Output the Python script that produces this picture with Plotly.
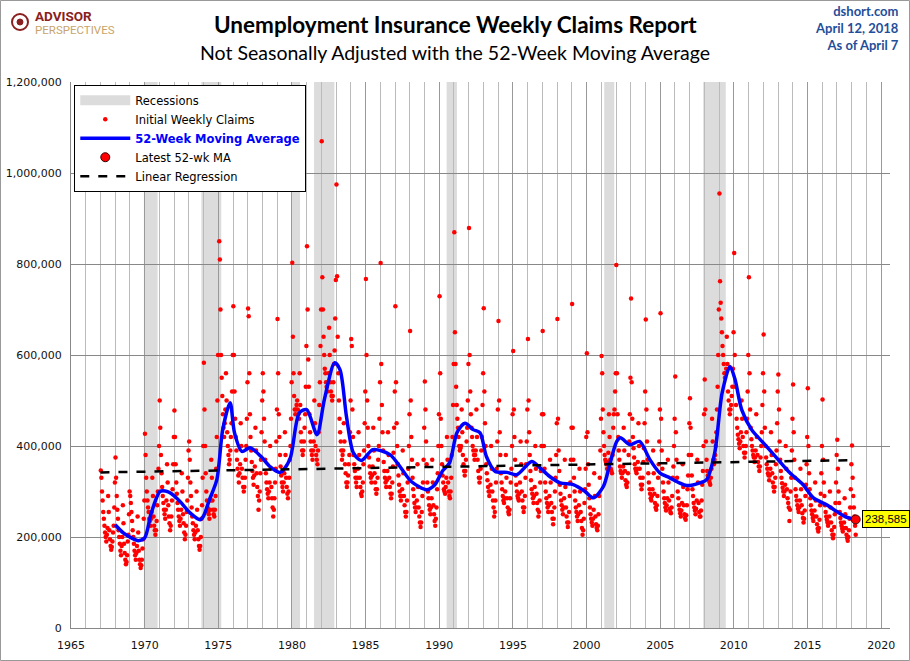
import plotly.graph_objects as go

# weekly claims, in thousands, two readings per month (Jan..Dec), from Jan 1967
claims_k = [
    346, 330, 300, 280, 255, 240, 225, 210, 200, 190, 205, 220, 290, 255, 215, 195, 180, 172, 178, 190, 210, 225, 265, 320,  # 1967
    375, 330, 290, 260, 240, 215, 200, 185, 170, 160, 180, 200, 270, 230, 185, 165, 150, 140, 145, 160, 190, 205, 250, 300,  # 1968
    290, 275, 255, 235, 215, 200, 185, 170, 160, 150, 165, 180, 245, 210, 170, 150, 140, 132, 138, 150, 175, 195, 240, 280,  # 1969
    427, 380, 330, 300, 280, 265, 255, 240, 235, 225, 240, 255, 330, 290, 245, 225, 215, 205, 215, 235, 270, 300, 350, 400,  # 1970
    500, 440, 380, 340, 310, 290, 275, 260, 250, 240, 260, 280, 360, 320, 270, 245, 230, 215, 225, 245, 280, 305, 360, 420,  # 1971
    478, 420, 360, 320, 295, 275, 260, 245, 235, 225, 240, 260, 340, 300, 250, 230, 210, 195, 205, 225, 255, 280, 330, 390,  # 1972
    410, 370, 320, 290, 265, 245, 230, 215, 205, 195, 210, 225, 300, 260, 215, 195, 180, 172, 180, 200, 240, 270, 330, 400,  # 1973
    583, 480, 400, 340, 300, 280, 265, 255, 250, 240, 260, 280, 370, 330, 280, 260, 250, 245, 260, 290, 350, 420, 500, 600,  # 1974
    967, 850, 810, 700, 600, 550, 510, 470, 440, 420, 450, 480, 560, 500, 430, 400, 380, 360, 370, 390, 420, 450, 520, 600,  # 1975
    707, 600, 520, 460, 420, 390, 370, 350, 335, 320, 340, 360, 450, 400, 350, 330, 310, 300, 310, 330, 370, 400, 460, 540,  # 1976
    702, 685, 560, 470, 420, 390, 365, 345, 330, 315, 335, 355, 440, 390, 340, 310, 290, 260, 280, 300, 340, 370, 430, 500,  # 1977
    560, 520, 460, 410, 370, 340, 320, 305, 295, 285, 300, 320, 400, 350, 310, 285, 265, 245, 260, 285, 320, 350, 410, 480,  # 1978
    679, 560, 470, 420, 380, 355, 335, 320, 310, 300, 320, 340, 430, 380, 330, 310, 295, 285, 300, 330, 370, 400, 460, 540,  # 1979
    803, 640, 560, 510, 480, 470, 480, 490, 500, 480, 470, 460, 560, 490, 430, 410, 390, 380, 390, 410, 440, 470, 530, 620,  # 1980
    839, 700, 590, 530, 470, 430, 410, 390, 380, 370, 390, 410, 500, 450, 400, 380, 370, 360, 390, 430, 490, 540, 620, 700,  # 1981
    1070, 771, 700, 640, 600, 570, 560, 540, 530, 520, 540, 560, 660, 600, 540, 520, 510, 500, 510, 540, 580, 610, 680, 765,  # 1982
    975, 773, 640, 560, 500, 460, 430, 410, 390, 370, 380, 390, 450, 410, 360, 340, 320, 310, 320, 335, 360, 380, 430, 500,  # 1983
    635, 620, 480, 420, 380, 360, 345, 330, 320, 310, 330, 350, 430, 380, 330, 310, 295, 290, 300, 320, 360, 390, 450, 520,  # 1984
    767, 600, 500, 440, 400, 375, 355, 340, 330, 320, 335, 355, 440, 390, 340, 320, 305, 295, 305, 330, 370, 400, 460, 540,  # 1985
    802, 580, 490, 430, 390, 365, 345, 330, 320, 310, 325, 345, 430, 380, 330, 310, 295, 285, 295, 320, 355, 385, 440, 520,  # 1986
    707, 540, 450, 400, 360, 335, 315, 300, 290, 280, 290, 305, 390, 340, 290, 270, 255, 245, 255, 280, 320, 350, 400, 470,  # 1987
    653, 500, 420, 370, 330, 305, 290, 275, 265, 255, 265, 280, 360, 310, 265, 245, 232, 222, 232, 255, 290, 320, 370, 440,  # 1988
    542, 480, 410, 360, 320, 300, 285, 270, 260, 250, 265, 285, 370, 320, 270, 250, 235, 225, 240, 265, 305, 340, 400, 470,  # 1989
    729, 560, 460, 400, 360, 335, 320, 305, 300, 295, 310, 330, 420, 370, 320, 300, 290, 285, 300, 330, 380, 420, 490, 580,  # 1990
    870, 650, 580, 530, 490, 460, 440, 420, 400, 390, 395, 400, 480, 430, 380, 360, 345, 335, 345, 370, 410, 440, 500, 580,  # 1991
    879, 600, 520, 470, 440, 420, 400, 390, 380, 370, 380, 390, 480, 420, 370, 345, 330, 320, 330, 350, 390, 420, 490, 560,  # 1992
    703, 520, 450, 400, 360, 340, 325, 310, 300, 290, 300, 315, 400, 350, 300, 280, 265, 245, 255, 280, 320, 350, 410, 480,  # 1993
    675, 500, 430, 380, 340, 320, 305, 290, 280, 275, 285, 300, 380, 330, 285, 265, 255, 250, 260, 285, 320, 350, 400, 470,  # 1994
    609, 480, 420, 370, 335, 315, 300, 290, 285, 280, 295, 320, 410, 360, 300, 280, 265, 255, 265, 290, 330, 360, 410, 480,  # 1995
    635, 500, 430, 380, 345, 325, 305, 295, 285, 275, 290, 310, 400, 350, 295, 275, 260, 245, 255, 280, 320, 345, 400, 470,  # 1996
    653, 470, 400, 350, 320, 300, 285, 275, 265, 255, 270, 290, 370, 320, 275, 255, 240, 228, 240, 265, 300, 330, 380, 450,  # 1997
    679, 460, 390, 345, 315, 295, 280, 270, 260, 250, 265, 285, 370, 310, 265, 245, 232, 222, 232, 255, 290, 320, 370, 440,  # 1998
    712, 440, 370, 330, 300, 280, 265, 255, 245, 235, 250, 270, 350, 300, 255, 235, 220, 205, 215, 240, 275, 305, 350, 420,  # 1999
    604, 430, 360, 315, 285, 265, 250, 240, 232, 225, 240, 260, 340, 290, 245, 228, 220, 215, 225, 250, 290, 330, 390, 460,  # 2000
    598, 560, 480, 430, 400, 380, 370, 365, 360, 350, 365, 385, 470, 420, 370, 350, 345, 340, 380, 440, 470, 480, 520, 560,  # 2001
    798, 560, 470, 420, 390, 370, 355, 345, 340, 330, 340, 355, 440, 390, 345, 325, 315, 310, 320, 340, 380, 410, 470, 550,  # 2002
    724, 540, 460, 420, 395, 375, 360, 350, 345, 340, 350, 365, 450, 400, 350, 330, 315, 305, 315, 330, 365, 395, 450, 520,  # 2003
    678, 480, 410, 370, 340, 320, 305, 295, 285, 280, 290, 305, 390, 340, 295, 275, 265, 260, 270, 290, 330, 360, 410, 480,  # 2004
    692, 460, 390, 350, 320, 300, 285, 275, 265, 258, 270, 285, 370, 320, 280, 262, 255, 252, 265, 290, 330, 355, 400, 460,  # 2005
    553, 430, 370, 330, 300, 285, 270, 260, 252, 245, 258, 275, 360, 310, 270, 250, 242, 238, 248, 270, 305, 335, 380, 450,  # 2006
    505, 440, 380, 335, 305, 290, 275, 265, 258, 250, 262, 280, 370, 320, 275, 255, 245, 245, 258, 280, 315, 345, 400, 470,  # 2007
    546, 480, 410, 370, 345, 335, 330, 325, 320, 315, 330, 350, 460, 410, 370, 360, 370, 380, 400, 430, 480, 530, 600, 700,  # 2008
    955, 762, 715, 680, 650, 620, 600, 580, 560, 550, 560, 570, 640, 580, 520, 500, 480, 470, 480, 490, 510, 530, 570, 650,  # 2009
    824, 600, 530, 490, 460, 440, 425, 415, 405, 395, 410, 430, 500, 460, 420, 400, 385, 375, 385, 400, 430, 460, 520, 600,  # 2010
    771, 560, 480, 440, 415, 400, 390, 380, 375, 365, 375, 390, 470, 420, 380, 365, 355, 345, 355, 375, 400, 430, 490, 560,  # 2011
    645, 520, 440, 400, 375, 360, 350, 340, 335, 325, 335, 350, 430, 380, 340, 320, 310, 300, 310, 330, 360, 390, 450, 520,  # 2012
    557, 480, 410, 370, 345, 330, 318, 308, 300, 290, 300, 315, 400, 350, 305, 285, 275, 265, 235, 260, 300, 330, 390, 460,  # 2013
    535, 430, 370, 330, 305, 290, 280, 270, 262, 255, 265, 280, 350, 305, 270, 252, 242, 232, 240, 258, 290, 315, 360, 420,  # 2014
    527, 400, 340, 305, 285, 270, 258, 250, 242, 235, 245, 258, 320, 280, 245, 228, 218, 212, 220, 238, 270, 295, 340, 400,  # 2015
    502, 370, 320, 290, 270, 255, 245, 238, 232, 225, 232, 245, 300, 265, 232, 215, 205, 197, 205, 222, 250, 275, 320, 380,  # 2016
    414, 350, 300, 275, 255, 242, 232, 225, 218, 212, 220, 232, 285, 250, 220, 205, 198, 192, 200, 215, 240, 265, 305, 360,  # 2017
    401, 330, 290, 265, 245, 225, 205,  # 2018 (to April 7)
]
claims_start = 1967

# 52-week moving average (decimal year, thousands)
ma_year = [1968.0, 1968.55, 1969.1, 1969.57, 1970.0, 1970.45, 1971.04, 1971.4, 1971.72, 1972.4,
           1973.08, 1973.76, 1973.98, 1974.4, 1974.9, 1975.3, 1975.8, 1976.1, 1976.6, 1977.15,
           1977.9, 1978.5, 1979.2, 1979.85, 1980.5, 1981.0, 1981.7, 1982.2, 1982.9, 1983.26,
           1983.7, 1984.17, 1984.7, 1985.5, 1986.65, 1987.33, 1988.1, 1989.15, 1989.7, 1990.2,
           1990.7, 1991.2, 1991.75, 1992.3, 1992.77, 1993.2, 1993.8, 1994.6, 1995.26, 1996.28,
           1996.84, 1997.5, 1998.2, 1999.1, 1999.9, 2000.46, 2001.14, 2001.6, 2002.05, 2002.3,
           2002.95, 2003.6, 2004.3, 2004.97, 2005.65, 2006.3, 2006.8, 2007.7, 2008.15, 2008.7,
           2009.2, 2009.74, 2010.08, 2010.53, 2011.2, 2012.0, 2012.9, 2013.8, 2014.7, 2015.4,
           2016.3, 2016.98, 2017.55, 2018.27]
ma_k = [227, 209, 198, 192, 198, 253, 300, 301, 297, 278,
        253, 238, 245, 282, 326, 436, 495, 429, 388, 396,
        377, 355, 342, 370, 473, 480, 425, 502, 583, 568,
        465, 385, 368, 392, 381, 355, 322, 304, 315, 344,
        363, 429, 450, 436, 429, 377, 344, 342, 337, 366,
        352, 333, 319, 315, 300, 286, 311, 363, 410, 418,
        403, 410, 370, 341, 330, 319, 313, 319, 326, 385,
        516, 575, 546, 480, 436, 407, 374, 341, 315, 286,
        271, 256, 245, 238.585]

reg_year = [1967.0, 2018.27]
reg_k = [342, 369]

rec_start = [1969.95, 1973.85, 1980.0, 1981.5, 1990.5, 2001.2, 2007.92]
rec_end = [1970.88, 1975.2, 1980.55, 1982.88, 1991.2, 2001.88, 2009.45]

W, H = 910, 661
L, R, T, B = 71, 20, 82, 33
pw, ph = W - L - R, H - T - B


def px(x):
    # page pixel -> paper x
    return (x - L) / pw


def py(y):
    # page pixel -> paper y
    return (H - B - y) / ph


claims_x = [claims_start + (i + 0.5) / 24 for i in range(len(claims_k))]
claims_y = [v * 1000 for v in claims_k]
ma_y = [v * 1000 for v in ma_k]

fig = go.Figure()

# legend-only swatch for recessions
fig.add_trace(go.Scatter(x=[None], y=[None], mode="lines", name="Recessions",
                         line=dict(color="#DCDCDC", width=10)))
fig.add_trace(go.Scatter(x=claims_x, y=claims_y, mode="markers", name="Initial Weekly Claims",
                         marker=dict(color="#FF0000", size=4.5, line=dict(width=0))))
fig.add_trace(go.Scatter(x=ma_year, y=ma_y, mode="lines",
                         name="<b><span style='color:#0000FF'>52-Week Moving Average</span></b>",
                         line=dict(color="#0000FF", width=3.5, shape="spline", smoothing=0.8)))
fig.add_trace(go.Scatter(x=[ma_year[-1]], y=[ma_y[-1]], mode="markers", name="Latest 52-wk MA",
                         marker=dict(color="#FF0000", size=9, line=dict(color="#400000", width=1))))
fig.add_trace(go.Scatter(x=reg_year, y=[v * 1000 for v in reg_k], mode="lines", name="Linear Regression",
                         line=dict(color="black", width=2.5, dash="dash")))

for s, e in zip(rec_start, rec_end):
    fig.add_vrect(x0=s, x1=e, fillcolor="#DCDCDC", opacity=1, line_width=0, layer="below")

fig.add_annotation(x=ma_year[-1], y=ma_y[-1], xref="x", yref="y",
                   text=f"{ma_k[-1] * 1000:,.0f}", showarrow=False, xanchor="left", xshift=6,
                   font=dict(family="Liberation Sans", size=11.5, color="black"),
                   bgcolor="#FFFF00", bordercolor="black", borderwidth=1, borderpad=2)

# titles and header text
fig.add_annotation(x=px(W / 2), y=py(25), xref="paper", yref="paper", showarrow=False,
                   text="<b>Unemployment Insurance Weekly Claims Report</b>", xanchor="center",
                   yanchor="middle", font=dict(family="Lato", size=22.5, color="black"))
fig.add_annotation(x=px(W / 2), y=py(53), xref="paper", yref="paper", showarrow=False,
                   text="Not Seasonally Adjusted with the 52-Week Moving Average", xanchor="center",
                   yanchor="middle", font=dict(family="Lato", size=19.5, color="black"))
fig.add_annotation(x=px(901), y=py(1), xref="paper", yref="paper",
                   showarrow=False, xanchor="right", yanchor="top", align="right",
                   text="<b>dshort.com<br>April 12, 2018<br>As of April 7</b>",
                   font=dict(family="Lato", size=13, color="#1F4E9A"))
fig.add_annotation(x=px(33), y=py(15.5), xref="paper", yref="paper", showarrow=False,
                   xanchor="left", yanchor="middle", text="<b>ADVISOR</b>",
                   font=dict(family="Roboto", size=13.5, color="#8B1E1E"))
fig.add_annotation(x=px(33), y=py(30), xref="paper", yref="paper", showarrow=False,
                   xanchor="left", yanchor="middle", text="PERSPECTIVES",
                   font=dict(family="Roboto", size=11.5, color="#C8A46A"))
fig.add_shape(type="circle", xref="paper", yref="paper",
              x0=px(12), x1=px(28), y0=py(30), y1=py(14),
              line=dict(color="#8B1E1E", width=2), fillcolor="white")
fig.add_shape(type="circle", xref="paper", yref="paper",
              x0=px(17), x1=px(23), y0=py(25), y1=py(19),
              line=dict(color="#8B1E1E", width=1), fillcolor="#8B1E1E")

# outer frame
fig.add_shape(type="rect", xref="paper", yref="paper",
              x0=px(0.5), x1=px(W - 0.5), y0=py(H - 0.5), y1=py(0.5),
              line=dict(color="#999999", width=1), layer="below")

fig.update_layout(
    width=W, height=H,
    margin=dict(l=L, r=R, t=T, b=B),
    paper_bgcolor="white", plot_bgcolor="white",
    font=dict(family="DejaVu Sans", size=11, color="#111111"),
    showlegend=True,
    legend=dict(x=0.004, y=0.995, xanchor="left", yanchor="top", bgcolor="white",
                bordercolor="black", borderwidth=1, font=dict(family="DejaVu Sans", size=11.5, color="black"),
                itemwidth=50),
)
fig.update_xaxes(range=[1965, 2020.6], tick0=1965, dtick=5, showgrid=True, gridcolor="#999999",
                 gridwidth=1, minor=dict(dtick=1, showgrid=True, gridcolor="#BBBBBB", gridwidth=1),
                 showline=True, linecolor="#888888", zeroline=False, ticks="", tickfont=dict(size=11),
                 automargin=False, ticklabelstandoff=7)
fig.update_yaxes(range=[0, 1200000], dtick=200000, tickformat=",", showgrid=True, gridcolor="#888888",
                 gridwidth=1, showline=True, linecolor="#888888", zeroline=False, ticks="",
                 tickfont=dict(size=11), automargin=False, ticklabelstandoff=6)

# page has a default body margin; drop it so the figure sits at the window's corner
fig.write_html("out.html", config={"displayModeBar": False},
               post_script="document.body.style.margin='0px';")
